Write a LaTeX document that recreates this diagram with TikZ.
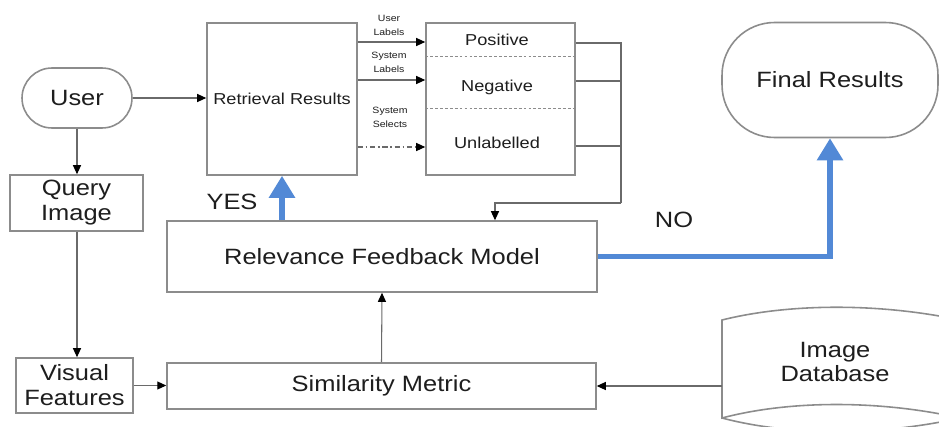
\documentclass[tikz,border=0pt]{standalone}
\usepackage{fontspec}
\setmainfont{Liberation Sans}[FakeStretch=1.15]
\usepackage{tikz}
\usetikzlibrary{arrows.meta}
\definecolor{linec}{HTML}{6A6A6A}
\definecolor{framec}{HTML}{8C8C8C}
\definecolor{textc}{HTML}{1E1E1E}
\definecolor{bluec}{HTML}{5289D6}
\tikzset{
  ar/.style={-{Triangle[width=1.6mm,length=1.8mm,color=black]},line width=0.6pt,linec},
  ln/.style={line width=0.6pt,linec},
  box/.style={draw=framec,line width=0.9pt,align=center,text=textc,inner sep=2pt},
  blu/.style={-{Triangle[width=5mm,length=4.4mm]},line width=3.3pt,bluec},
  bigtxt/.style={font=\fontsize{12.6}{14.2}\selectfont,text=textc,align=center},
  midtxt/.style={font=\fontsize{9}{11}\selectfont,text=textc,align=center},
  labtxt/.style={font=\fontsize{5.2}{7.9}\selectfont,text=textc,align=center,inner sep=0pt}
}
\begin{document}
\begin{tikzpicture}[x=0.02cm,y=-0.02cm]
\useasboundingbox[fill=white] (0,0) rectangle (939,426);
\node[box,bigtxt,rounded corners=0.6cm,minimum width=2.2cm,minimum height=1.2cm] (usr) at (77,98) {User};
\node[box,bigtxt,minimum width=2.66cm,minimum height=1.12cm] (qry) at (76.5,203) {Query\\Image};
\node[box,bigtxt,minimum width=2.34cm,minimum height=1.1cm] (vis) at (74.5,385.5) {Visual\\Features};
\node[box,midtxt,minimum width=3cm,minimum height=3.04cm] (ret) at (282,99) {Retrieval Results};
\node[box,minimum width=2.98cm,minimum height=3.04cm] (cat) at (500.5,99) {};
\node[midtxt] (pos) at (497,40) {Positive};
\node[midtxt] (neg) at (497,87) {Negative};
\node[midtxt] (unl) at (497,143) {Unlabelled};
\draw[framec,dashed,line width=0.5pt,dash pattern=on 1.6pt off 1.2pt] (cat.west |- 0,56) -- (cat.east |- 0,56) (cat.west |- 0,108) -- (cat.east |- 0,108);
\node[box,bigtxt,minimum width=8.6cm,minimum height=1.42cm] (rfm) at (382,256.5) {Relevance Feedback Model};
\node[box,bigtxt,minimum width=8.58cm,minimum height=0.92cm] (sim) at (381.5,386) {Similarity Metric};
\node[box,bigtxt,rounded corners=1.05cm,minimum width=4.32cm,minimum height=2.3cm] (fin) at (830,80) {Final Results};
\draw[framec,line width=0.9pt] (960,320) .. controls (880,303) and (790,303) .. (722,320) -- (722,418)
  .. controls (790,400) and (880,400) .. (960,418) (722,418) .. controls (790,436) and (880,436) .. (960,418);
\node[bigtxt] (db) at (835,362) {Image\\Database};
\node[labtxt] (ulab) at (389,25) {User\\Labels};
\node[labtxt] (slab) at (389,62.5) {System\\Labels};
\node[labtxt] (ssel) at (390,117.5) {System\\Selects};
\node[bigtxt] (yes) at (232,202) {YES};
\node[bigtxt] (no) at (674,220) {NO};
\coordinate (pin) at (cat.west |- 0,42);
\coordinate (nin) at (cat.west |- 0,80);
\coordinate (uin) at (cat.west |- 0,147);
\coordinate (fbk) at (621,203);
\coordinate (dbin) at (722,386);
\draw[ar] (usr.east) -- (usr.east -| ret.west);
\draw[ar] (usr.south) -- (usr.south |- qry.north);
\draw[ar] (qry.south -| usr.south) -- (usr.south |- vis.north);
\draw[ar] (vis.east) -- (vis.east -| sim.west);
\draw[ar] (sim.north) -- (rfm.south);
\draw[ar] (dbin) -- (sim.east);
\draw[ar] (ret.east |- pin) -- (pin);
\draw[ar] (ret.east |- nin) -- (nin);
\draw[ar,dash pattern=on 3pt off 1.5pt on 1pt off 1.5pt] (ret.east |- uin) -- (uin);
\draw[ln] (cat.east |- 0,43) -| (fbk) (cat.east |- 0,81) -- (fbk |- 0,81) (cat.east |- 0,146) -- (fbk |- 0,146);
\draw[ar] (fbk) -| ([xshift=2.26cm]rfm.north);
\draw[blu] (rfm.north -| ret.south) -- (ret.south);
\draw[blu] (rfm.east) -| (fin.south);
\end{tikzpicture}
\end{document}
